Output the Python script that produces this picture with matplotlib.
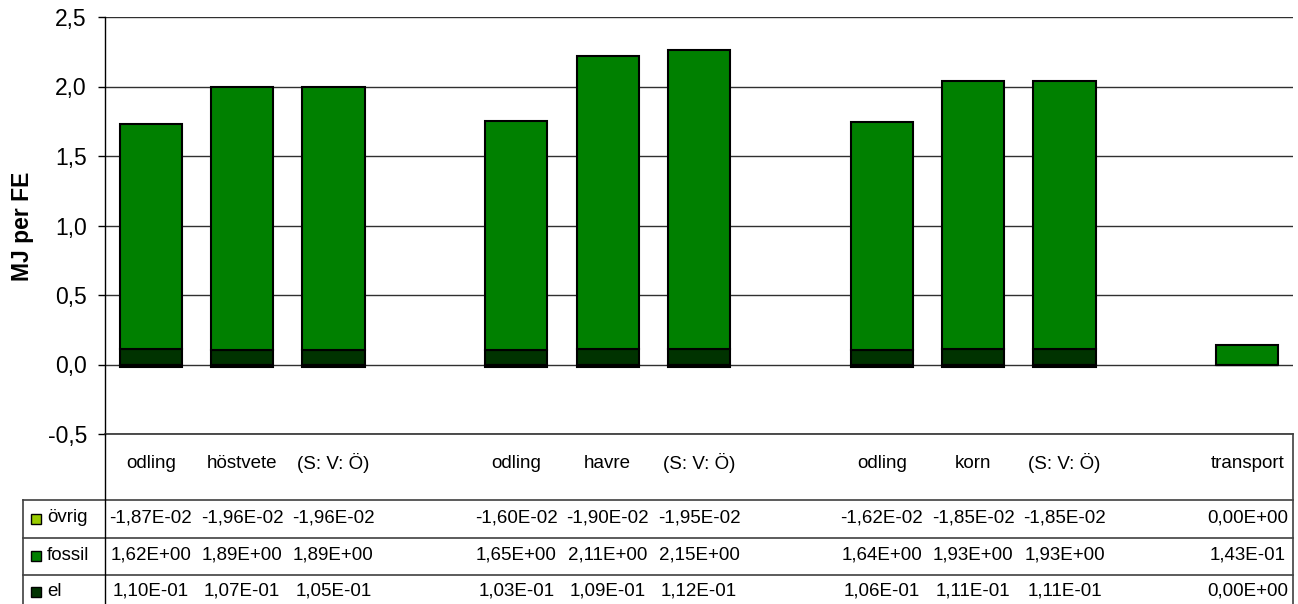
import numpy as np
import matplotlib
matplotlib.use('Agg')
import matplotlib.pyplot as plt
from matplotlib.lines import Line2D
from matplotlib.ticker import FuncFormatter

plt.rcParams['font.family'] = ['Liberation Sans', 'DejaVu Sans']

categories = ['odling', 'höstvete', '(S: V: Ö)', '',
              'odling', 'havre', '(S: V: Ö)', '',
              'odling', 'korn', '(S: V: Ö)', '',
              'transport']
ovrig = [-1.87e-2, -1.96e-2, -1.96e-2, None,
         -1.60e-2, -1.90e-2, -1.95e-2, None,
         -1.62e-2, -1.85e-2, -1.85e-2, None,
         0.0]
fossil = [1.62, 1.89, 1.89, None,
          1.65, 2.11, 2.15, None,
          1.64, 1.93, 1.93, None,
          0.143]
el = [0.110, 0.107, 0.105, None,
      0.103, 0.109, 0.112, None,
      0.106, 0.111, 0.111, None,
      0.0]
row_names = ['övrig', 'fossil', 'el']
row_colors = ['#99CC00', '#008000', '#003300']

W, H = 1298, 604
fig = plt.figure(figsize=(W / 100, H / 100), dpi=100)
ax = fig.add_axes([105 / W, 1 - 434 / H, 1188 / W, 417 / H])

idx = [i for i, v in enumerate(fossil) if v is not None]
xs = np.array(idx)
el_v = np.array([el[i] for i in idx])
fo_v = np.array([fossil[i] for i in idx])
ov_v = np.array([ovrig[i] for i in idx])

bw = 0.68
ax.bar(xs, el_v, bw, color=row_colors[2], edgecolor='black', linewidth=1.5, zorder=3)
ax.bar(xs, fo_v, bw, bottom=el_v, color=row_colors[1], edgecolor='black', linewidth=1.5, zorder=3)
ax.bar(xs, ov_v, bw, color=row_colors[0], edgecolor='black', linewidth=1.5, zorder=3)

ax.set_xlim(-0.5, len(categories) - 0.5)
ax.set_ylim(-0.5, 2.5)
ax.set_yticks(np.arange(-0.5, 2.51, 0.5))
ax.yaxis.set_major_formatter(FuncFormatter(lambda v, p: f"{v:.1f}".replace('.', ',')))
ax.tick_params(axis='y', direction='out', length=5, width=1, pad=8, labelsize=16.5)
ax.set_xticks([])
ax.grid(axis='y', color='#303030', linewidth=1, zorder=0)
for s in ['top', 'right']:
    ax.spines[s].set_visible(False)
ax.spines['left'].set_linewidth(1)
ax.spines['bottom'].set_linewidth(1.2)
ax.spines['bottom'].set_color('#303030')

# data table under the chart
trans = ax.get_xaxis_transform()
def ay(p):
    return (434 - p) / 417

for i, c in enumerate(categories):
    if c:
        ax.text(i, ay(463), c, transform=trans, ha='center', va='center', fontsize=13.5, clip_on=False)

row_y = [518, 555, 591]
for vals, yp in zip([ovrig, fossil, el], row_y):
    for i, v in enumerate(vals):
        if v is None:
            continue
        txt = f"{v:.2E}".replace('.', ',')
        ax.text(i, ay(yp), txt, transform=trans, ha='center', va='center', fontsize=13.5, clip_on=False)

def fx(p):
    return p / W
def fy(p):
    return 1 - p / H

for name, col, yp in zip(row_names, row_colors, row_y):
    fig.add_artist(Line2D([fx(36)], [fy(yp + 1)], marker='s', markersize=7.5,
                          markerfacecolor=col, markeredgecolor='black', markeredgewidth=1,
                          transform=fig.transFigure))
    fig.text(fx(47), fy(yp), name, ha='left', va='center', fontsize=13.5)

line_kw = dict(color='#404040', linewidth=1.2, transform=fig.transFigure)
for yp in [500, 538, 575]:
    fig.add_artist(Line2D([fx(23), fx(1293)], [fy(yp), fy(yp)], **line_kw))
fig.add_artist(Line2D([fx(23), fx(23)], [fy(500), fy(604)], **line_kw))
fig.add_artist(Line2D([fx(105), fx(105)], [fy(434), fy(604)], color='black', linewidth=1, transform=fig.transFigure))
fig.add_artist(Line2D([fx(1293), fx(1293)], [fy(434), fy(604)], **line_kw))

fig.text(fx(22), fy(226), 'MJ per FE', rotation=90, fontweight='bold', fontsize=16.5,
         ha='center', va='center')

fig.savefig('out.png', dpi=100)
